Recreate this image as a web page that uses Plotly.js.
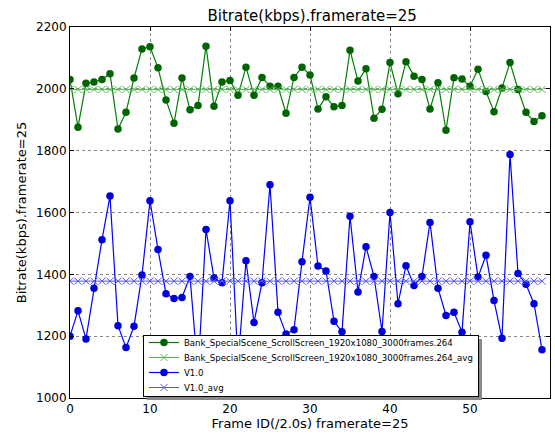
<!DOCTYPE html>
<html>
<head>
<meta charset="utf-8">
<script src="https://cdn.plot.ly/plotly-3.0.1.min.js"></script>
<style>html,body{margin:0;padding:0;background:#fff;}#chart{width:555px;height:437px;}</style>
</head>
<body>
<div id="chart"></div>
<script>
const frames = Array.from({length: 60}, (_, i) => i);
const bankValues = [2030,1876,2018,2022,2030,2049,1870,1924,2035,2129,2136,2068,1964,1889,2035,1932,1946,2138,1944,2022,
  2027,1979,2070,1979,2037,2008,2008,1921,2037,2070,2045,1935,1974,1942,1946,2125,2025,2065,1905,1934,
  2085,1984,2088,2041,2030,1935,2020,1866,2036,2032,2008,2063,1991,1926,2003,2085,1998,1924,1894,1913];
const bankAvgValue = 1998;
const v1Values = [1200,1282,1191,1355,1512,1653,1234,1163,1232,1398,1638,1480,1337,1322,1325,1393,1080,1545,1388,1373,
  1638,1110,1444,1244,1373,1690,1277,1207,1221,1441,1649,1427,1411,1248,1214,1588,1343,1489,1393,1215,
  1600,1305,1428,1364,1393,1568,1355,1267,1277,1213,1570,1391,1462,1315,1193,1788,1403,1368,1305,1156];
const v1AvgValue = 1378;
const seriesNames = ['Bank_SpecialScene_ScrollScreen_1920x1080_3000frames.264',
  'Bank_SpecialScene_ScrollScreen_1920x1080_3000frames.264_avg', 'V1.0', 'V1.0_avg'];
const xTicks = [0,10,20,30,40,50,60];
const yTicks = [1000,1200,1400,1600,1800,2000,2200];

const traces = [
  {x: frames, y: bankValues, name: seriesNames[0], mode: 'lines+markers',
   line: {color: '#008000', width: 1.2}, marker: {color: '#006400', size: 7.5, symbol: 'circle'}},
  {x: frames, y: frames.map(() => bankAvgValue), name: seriesNames[1], mode: 'lines+markers',
   line: {color: '#55b855', width: 1}, marker: {color: '#55b855', size: 7, symbol: 'x-thin-open', line: {color: '#55b855', width: 1}}},
  {x: frames, y: v1Values, name: seriesNames[2], mode: 'lines+markers',
   line: {color: '#0000ff', width: 1.2}, marker: {color: '#0000dd', size: 7.5, symbol: 'circle'}},
  {x: frames, y: frames.map(() => v1AvgValue), name: seriesNames[3], mode: 'lines+markers',
   line: {color: '#5555ff', width: 1}, marker: {color: '#5555ff', size: 7, symbol: 'x-thin-open', line: {color: '#5555ff', width: 1}}}
];

const axisCommon = {
  showline: true, linecolor: '#000', linewidth: 1, mirror: 'ticks',
  ticks: 'inside', ticklen: 4, tickcolor: '#000', tickwidth: 1,
  showgrid: true, gridcolor: '#888', griddash: 'dot', gridwidth: 1,
  zeroline: false, tickfont: {family: 'DejaVu Sans', size: 12, color: '#000'}
};

const layout = {
  width: 555, height: 437,
  margin: {l: 70, r: 5, t: 27, b: 38.5},
  paper_bgcolor: '#fff', plot_bgcolor: '#fff',
  showlegend: true,
  title: {text: 'Bitrate(kbps).framerate=25', x: 0.5625, xanchor: 'center', y: 0.965, yanchor: 'middle',
          font: {family: 'DejaVu Sans', size: 15, color: '#000'}},
  xaxis: Object.assign({}, axisCommon, {range: [0, 60], tickvals: xTicks,
          title: {text: 'Frame ID(/2.0s) framerate=25', standoff: 2, font: {family: 'DejaVu Sans', size: 13, color: '#000'}}}),
  yaxis: Object.assign({}, axisCommon, {range: [1000, 2200], tickvals: yTicks,
          title: {text: 'Bitrate(kbps).framerate=25', standoff: 6, font: {family: 'DejaVu Sans', size: 13, color: '#000'}}}),
  legend: {x: 0.152, y: 0.008, xanchor: 'left', yanchor: 'bottom', bgcolor: '#fff', bordercolor: '#000', borderwidth: 1,
           font: {family: 'DejaVu Sans', size: 8.6, color: '#000'}, tracegroupgap: 0, itemwidth: 30}
};

const LEG_TOP = 335, LEG_H = 61, ROW0 = 7.5, ROW_STEP = 15, SHADOW = 4;

function parseT(el) {
  const m = /translate\(\s*([-\d.e]+)[ ,]+([-\d.e]+)\s*\)/.exec(el.getAttribute('transform') || '');
  return m ? [parseFloat(m[1]), parseFloat(m[2])] : [0, 0];
}

function tweakLegend(gd) {
  const leg = gd.querySelector('.legend');
  if (!leg) return;
  const bg = leg.querySelector('.bg');
  const [lx] = parseT(leg);
  leg.setAttribute('transform', `translate(${lx},${LEG_TOP})`);
  if (bg) bg.setAttribute('height', LEG_H);
  leg.querySelectorAll('.traces').forEach((t, i) => {
    const [tx] = parseT(t);
    t.setAttribute('transform', `translate(${tx},${ROW0 + ROW_STEP * i})`);
  });
}

Plotly.newPlot('chart', traces, layout, {displayModeBar: false, staticPlot: true}).then(gd => {
  const leg = gd.querySelector('.legend');
  const bg = leg && leg.querySelector('.bg');
  if (!bg) return;
  const [lx] = parseT(leg);
  const w = parseFloat(bg.getAttribute('width'));
  const fl = gd._fullLayout;
  const W = fl._size.w, H = fl._size.h, L = fl._size.l, T = fl._size.t;
  const x0 = (lx + SHADOW - L) / W, x1 = (lx + w + SHADOW - L) / W;
  const y1 = 1 - (LEG_TOP + SHADOW - T) / H, y0 = 1 - (LEG_TOP + LEG_H + SHADOW - T) / H;
  return Plotly.relayout(gd, {shapes: [{type: 'rect', xref: 'paper', yref: 'paper', x0, x1, y0, y1,
    fillcolor: '#888', line: {width: 0}, layer: 'above'}]}).then(() => tweakLegend(gd));
});
</script>
</body>
</html>
